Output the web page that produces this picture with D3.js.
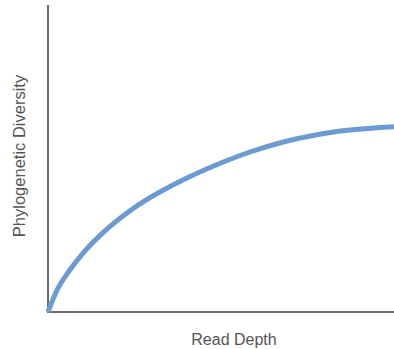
<!DOCTYPE html>
<html><head><meta charset="utf-8">
<script src="https://cdn.jsdelivr.net/npm/d3@7"></script>
<style>html,body{margin:0;padding:0;background:#fff}</style>
</head><body><svg id="c" width="394" height="349"></svg>
<script>
const readDepth = [0, 2.51, 6.36, 10.69, 15.52, 23.12, 29.48, 39.10, 48.76, 58.38, 68.01, 77.66, 87.28, 100];
const diversity = [0, 6.91, 13.75, 19.93, 25.47, 32.51, 37.23, 43.09, 47.98, 52.12, 55.37, 57.75, 59.28, 60.36];
const xLabel = "Read Depth";
const yLabel = "Phylogenetic Diversity";

const svg = d3.select("#c");
const x = d3.scaleLinear().domain([0, 100]).range([48, 394]);
const y = d3.scaleLinear().domain([0, 100]).range([312, 5]);

svg.append("line").attr("x1", 48).attr("x2", 48).attr("y1", 5).attr("y2", 312)
  .attr("stroke", "#6b6b6b").attr("stroke-width", 2);
svg.append("line").attr("x1", 47).attr("x2", 394).attr("y1", 312).attr("y2", 312)
  .attr("stroke", "#6b6b6b").attr("stroke-width", 2);

const pts = readDepth.map((d, i) => [d, diversity[i]]);
svg.append("path").datum(pts)
  .attr("d", d3.line().x(d => x(d[0])).y(d => y(d[1])).curve(d3.curveMonotoneX))
  .attr("fill", "none").attr("stroke", "#6b9bd1").attr("stroke-width", 5)
  .attr("stroke-linecap", "butt");

svg.append("text").attr("x", 234).attr("y", 345).attr("text-anchor", "middle")
  .attr("font-family", "Liberation Sans, Arial, sans-serif").attr("font-size", 16)
  .attr("fill", "#555").text(xLabel);
svg.append("text").attr("transform", "translate(25,156) rotate(-90)").attr("text-anchor", "middle")
  .attr("font-family", "Liberation Sans, Arial, sans-serif").attr("font-size", 16.5)
  .attr("fill", "#555").text(yLabel);
</script></body></html>
